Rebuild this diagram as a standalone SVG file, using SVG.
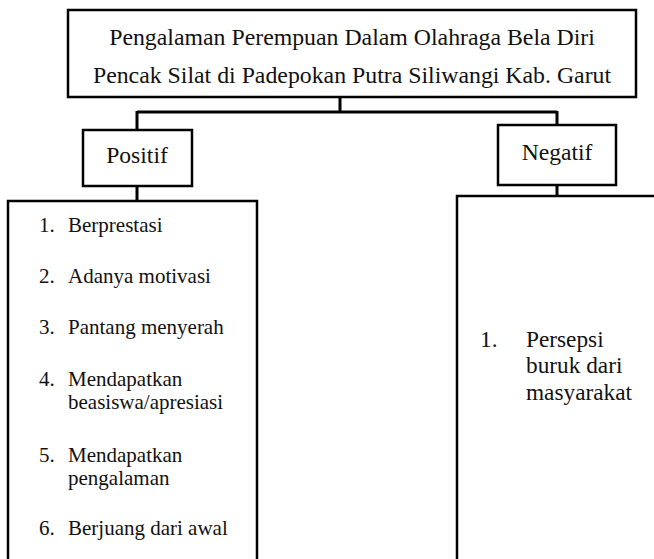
<svg xmlns="http://www.w3.org/2000/svg" width="654" height="559" viewBox="0 0 654 559">
<style>
.box{fill:#fff;stroke:#000;stroke-width:2.5}
.con{fill:none;stroke:#000;stroke-width:3}
text{font-family:"Liberation Serif","Times New Roman",serif;fill:#111}
.t{font-size:23.8px}
.h{font-size:23.6px;text-anchor:middle}
.l{font-size:21px}
.r{font-size:23.3px}
</style>
<rect width="654" height="559" fill="#fff"/>
<g id="connectors">
<path class="con" d="M340,97 V112 M137,112 H557 M137,111 V130 M557,111 V125 M137,186 V201 M557,185 V196"/>
</g>
<g id="title">
<rect class="box" x="68" y="10" width="568" height="87"/>
<text class="t" x="352" y="45" text-anchor="middle">Pengalaman Perempuan Dalam Olahraga Bela Diri</text>
<text class="t" x="352" y="83" text-anchor="middle">Pencak Silat di Padepokan Putra Siliwangi Kab. Garut</text>
</g>
<g id="positif">
<rect class="box" x="83" y="130" width="109" height="56"/>
<text class="h" x="137" y="163">Positif</text>
</g>
<g id="negatif">
<rect class="box" x="498" y="125" width="118" height="60"/>
<text class="h" x="557" y="160">Negatif</text>
</g>
<g id="positif-list">
<path class="box" d="M8,565 V201 H257 V565"/>
<text class="l" x="39" y="232">1.</text><text class="l" x="68" y="232">Berprestasi</text>
<text class="l" x="39" y="283">2.</text><text class="l" x="68" y="283">Adanya motivasi</text>
<text class="l" x="39" y="334">3.</text><text class="l" x="68" y="334">Pantang menyerah</text>
<text class="l" x="39" y="386">4.</text><text class="l" x="68" y="386">Mendapatkan</text>
<text class="l" x="68" y="409">beasiswa/apresiasi</text>
<text class="l" x="39" y="462">5.</text><text class="l" x="68" y="462">Mendapatkan</text>
<text class="l" x="68" y="485">pengalaman</text>
<text class="l" x="39" y="535">6.</text><text class="l" x="68" y="535">Berjuang dari awal</text>
</g>
<g id="negatif-list">
<path class="box" d="M457,565 V196 H660"/>
<text class="r" x="480" y="347">1.</text><text class="r" x="526" y="347">Persepsi</text>
<text class="r" x="526" y="373">buruk dari</text>
<text class="r" x="526" y="400">masyarakat</text>
</g>
</svg>
